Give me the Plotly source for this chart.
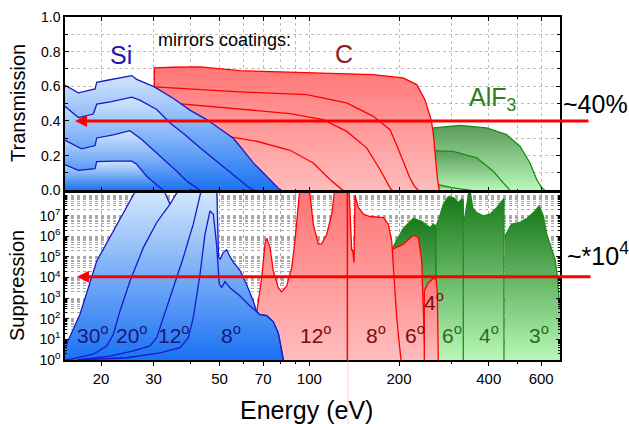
import plotly.graph_objects as go

# ---------------- DATA ----------------
# Top panel: transmission vs energy (eV)
si1_E = [15.0, 16.8, 19.1, 19.35, 21.0, 23.0, 25.35, 26.35, 30.2, 35.0, 40.0, 45.26, 50.0, 55.6, 58.5, 64.9, 68.3, 73.8, 78.7, 80.5]
si1_T = [0.61, 0.562, 0.585, 0.623, 0.635, 0.65, 0.662, 0.64, 0.597, 0.53, 0.46, 0.408, 0.357, 0.30, 0.254, 0.158, 0.12, 0.06, 0.012, 0.0]
si2_E = [15.0, 16.8, 18.85, 19.35, 21.5, 25.35, 27.0, 30.75, 34.1, 38.0, 43.0, 47.5, 52.8, 58.5, 63.2, 65.5]
si2_T = [0.49, 0.42, 0.44, 0.497, 0.51, 0.537, 0.52, 0.466, 0.389, 0.325, 0.245, 0.183, 0.12, 0.058, 0.012, 0.0]
si3_E = [15.0, 17.23, 19.1, 19.35, 22.0, 25.0, 27.4, 30.75, 35.9, 39.0, 41.9, 43.0]
si3_T = [0.293, 0.239, 0.258, 0.302, 0.32, 0.344, 0.293, 0.216, 0.11, 0.05, 0.012, 0.0]
si4_E = [15.0, 16.8, 19.1, 19.35, 22.0, 25.35, 26.35, 28.5, 30.75, 32.4]
si4_T = [0.15, 0.115, 0.125, 0.165, 0.168, 0.168, 0.15, 0.08, 0.03, 0.0]

c1_E = [30.2, 30.2, 35.0, 43.0, 58.5, 98.0, 163.6, 206.4, 229.3, 244.4, 254.0, 257.0, 261.0, 265.0, 269.0, 273.0]
c1_T = [0.0, 0.706, 0.71, 0.712, 0.69, 0.681, 0.668, 0.649, 0.61, 0.523, 0.42, 0.40, 0.32, 0.18, 0.07, 0.0]
c2_E = [30.2, 45.26, 58.5, 98.0, 133.5, 163.9, 186.6, 196.5, 206.8, 217.7, 226.0, 232.2]
c2_T = [0.597, 0.581, 0.568, 0.552, 0.504, 0.427, 0.35, 0.26, 0.16, 0.07, 0.02, 0.0]
c3_E = [34.0, 37.8, 58.5, 86.1, 111.4, 133.5, 155.8, 172.7, 186.6, 190.0]
c3_T = [0.505, 0.498, 0.466, 0.443, 0.408, 0.34, 0.245, 0.12, 0.014, 0.0]
c4_E = [52.0, 54.2, 66.6, 86.1, 103.1, 117.3, 126.7, 130.0]
c4_T = [0.31, 0.308, 0.283, 0.231, 0.158, 0.062, 0.014, 0.0]

g1_E = [250.0, 260.7, 320.4, 393.9, 459.6, 509.3, 550.2, 579.5, 602.6, 618.0]
g1_T = [0.36, 0.36, 0.375, 0.36, 0.321, 0.254, 0.158, 0.062, 0.014, 0.0]
g2_E = [250.0, 264.2, 304.2, 364.5, 414.5, 447.7, 471.5]
g2_T = [0.229, 0.229, 0.225, 0.187, 0.11, 0.043, 0.0]
g3_E = [250.0, 271.0, 300.0, 330.0, 350.0]
g3_T = [0.04, 0.033, 0.015, 0.004, 0.0]

# Bottom panel: suppression, given as decimal exponents (log10)
b30_E = [14.5, 15.14, 17.0, 19.35, 22.0, 25.35, 26.35, 29.0, 32.0, 32.8, 33.5, 34.09, 36.0, 40.0, 42.0]
b30_L = [0.0, 0.6, 2.22, 4.8, 6.26, 7.88, 8.3, 8.8, 8.5, 8.1, 7.8, 7.56, 6.5, 3.0, 0.0]
b20_E = [15.0, 15.74, 18.85, 20.9, 22.0, 23.17, 25.02, 27.74, 30.75, 34.09, 35.89, 38.0, 45.0, 46.5, 47.5]
b20_L = [0.0, 0.03, 0.28, 0.68, 1.25, 2.38, 3.83, 5.45, 6.67, 7.56, 8.1, 8.6, 8.6, 5.0, 0.0]
b12_E = [16.58, 21.44, 25.67, 29.21, 30.75, 32.37, 34.97, 37.77, 40.8, 42.98, 44.0, 48.5, 48.91, 49.6, 50.3, 51.3, 52.8,
         54.2, 55.6, 58.5, 61.65, 64.9, 66.6, 68.3, 71.9, 75.7, 78.7, 80.8, 81.8]
b12_L = [0.0, 0.19, 0.44, 0.68, 1.08, 2.05, 3.51, 4.97, 6.59, 7.96, 8.6, 8.6, 8.4, 5.0, 4.9, 5.2, 5.35,
         5.0, 4.75, 4.35, 3.65, 2.85, 2.35, 2.2, 2.15, 1.85, 1.3, 0.45, 0.0]
b8_E = [17.0, 24.39, 31.55, 36.82, 39.26, 40.8, 42.98, 44.67, 46.43, 47.64, 48.91, 49.89, 50.82, 52.13, 54.2, 58.54,
        63.24, 66.6, 68.3, 71.9, 75.7, 78.7, 80.8, 81.8]
b8_L = [0.0, 0.11, 0.35, 0.6, 1.08, 2.05, 4.16, 6.1, 7.23, 7.07, 5.5, 3.67, 3.51, 3.8, 3.5, 3.1,
        2.62, 2.33, 2.2, 2.15, 1.85, 1.3, 0.45, 0.0]

r12_E = [66.61, 69.25, 71.02, 71.94, 73.81, 75.72, 78.7, 80.79, 83.98, 87.28, 89.54, 91.85, 93.07, 97.0, 100.5,
         103.1, 107.2, 110.0, 114.4, 118.9, 122.0, 126.0, 134.3, 134.3]
r12_L = [2.3, 4.0, 5.62, 5.91, 5.45, 4.32, 3.51, 3.3, 3.59, 4.48, 5.78, 7.39, 8.4, 8.5, 8.04,
         6.59, 5.62, 5.62, 6.1, 7.07, 8.4, 8.6, 8.6, 0.0]
r8_E = [134.3, 134.3, 135.9, 138.8, 139.8, 141.3, 142.4, 146.0, 151.8, 159.8, 177.2, 184.1, 189.0, 192.4, 196.5, 200.5, 203.1]
r8_L = [0.0, 8.6, 8.4, 5.3, 5.35, 4.72, 8.0, 7.4, 7.07, 6.96, 6.91, 6.59, 5.78, 4.17, 2.05, 0.76, 0.0]
r6_E = [189.9, 206.8, 223.4, 232.2, 238.4, 241.4, 244.5]
r6_L = [5.37, 5.62, 6.05, 5.94, 4.8, 2.54, 0.0]
r4_E = [243.2, 243.2, 250.8, 260.7, 266.2, 268.9, 271.0]
r4_L = [0.0, 3.35, 3.75, 3.97, 3.92, 3.35, 0.0]

gr1_E = [185.0, 191.4, 206.8, 223.4, 238.4, 254.1, 260.7, 266.2, 266.2]
gr1_L = [5.0, 5.5, 6.38, 6.87, 6.72, 6.42, 6.59, 6.5, 0.0]
gr2_E = [266.2, 266.2, 271.0, 281.7, 292.7, 304.2, 316.2, 324.6, 328.7, 328.7]
gr2_L = [0.0, 6.5, 6.75, 7.56, 7.92, 7.88, 7.64, 7.8, 7.75, 0.0]
gr3_E = [330.4, 339.0, 344.3, 346.5, 353.4, 364.5, 383.7, 404.1, 425.6, 447.7, 450.2, 450.2]
gr3_L = [6.67, 7.56, 8.3, 8.2, 7.39, 7.15, 6.99, 7.07, 7.39, 7.8, 7.8, 0.0]
gr4_E = [453.6, 477.7, 509.3, 543.0, 571.9, 591.2, 610.0, 626.2, 650.9, 667.7, 676.6, 685.0, 694.0, 720.0]
gr4_L = [6.02, 6.59, 6.67, 6.91, 7.23, 7.48, 6.99, 6.1, 5.37, 4.89, 4.32, 3.35, 2.54, 1.8]

x_tickvals = [20, 30, 50, 70, 100, 200, 400, 600]
x_minorvals = [40, 60, 80, 90, 300, 500, 700]
yT_tickvals = [0.0, 0.2, 0.4, 0.6, 0.8, 1.0]
yS_exponents = [0, 1, 2, 3, 4, 5, 6, 7]

# ---------------- FIGURE ----------------
FONT = "Liberation Sans, Arial, sans-serif"
BLUE_LINE, RED_LINE, GREEN_LINE = "#1818cc", "#ff0000", "#1a8c1a"
BLUE_CS = [[0, "#1a72f2"], [1, "#d2e6fc"]]
RED_CS = [[0, "#ffbcbc"], [1, "#ff7676"]]
GREEN_TOP_CS = [[0, "#b8f8b8"], [1, "#5a9a5a"]]
GREEN_BOT_CS = [[0, "#b8f8b8"], [1, "#187818"]]

fig = go.Figure()
YMAX_LOG = 8.1


def add_area(x, y, xa, ya, color, cs, start, stop):
    fig.add_trace(go.Scatter(
        x=x, y=y, xaxis=xa, yaxis=ya, mode="lines", fill="tozeroy",
        line=dict(color=color, width=1.3),
        fillgradient=dict(type="vertical", colorscale=cs, start=start, stop=stop),
        hoverinfo="skip", showlegend=False))


# top panel: green, red, blue
for E, T in [(g1_E, g1_T), (g2_E, g2_T), (g3_E, g3_T)]:
    add_area(E, T, "x", "y", GREEN_LINE, GREEN_TOP_CS, 0, max(T))
for E, T in [(c1_E, c1_T), (c2_E, c2_T), (c3_E, c3_T), (c4_E, c4_T)]:
    add_area(E, T, "x", "y", RED_LINE, RED_CS, 0, max(c1_T))
for E, T in [(si1_E, si1_T), (si2_E, si2_T), (si3_E, si3_T), (si4_E, si4_T)]:
    add_area(E, T, "x", "y", BLUE_LINE, BLUE_CS, 0, max(T))

# bottom panel
for E, L in [(gr1_E, gr1_L), (gr2_E, gr2_L), (gr3_E, gr3_L), (gr4_E, gr4_L)]:
    add_area(E, [10 ** v for v in L], "x2", "y2", GREEN_LINE, GREEN_BOT_CS, 1, 10 ** min(max(L), YMAX_LOG))
for E, L in [(r6_E, r6_L), (r12_E, r12_L), (r8_E, r8_L), (r4_E, r4_L)]:
    add_area(E, [10 ** v for v in L], "x2", "y2", RED_LINE, RED_CS, 1, 10 ** min(max(L), YMAX_LOG))
for E, L in [(b30_E, b30_L), (b20_E, b20_L), (b12_E, b12_L), (b8_E, b8_L)]:
    add_area(E, [10 ** v for v in L], "x2", "y2", BLUE_LINE, BLUE_CS, 1, 10 ** YMAX_LOG)

xr = [1.1802, 2.8413]
axis_common = dict(showline=True, linecolor="black", linewidth=1.5, tickcolor="black",
                   tickfont=dict(family=FONT, size=14, color="black"))
grid = dict(showgrid=True, gridcolor="#bdbdbd", gridwidth=1, griddash="dot")
grid2 = dict(showgrid=True, gridcolor="#a8a8a8", gridwidth=1, griddash="dot")

top_frac = 173.3 / 343
bot_frac = 167 / 343

fig.update_layout(
    width=629, height=424,
    margin=dict(l=65, r=69, t=17, b=64, autoexpand=False),
    paper_bgcolor="white", plot_bgcolor="white",
    showlegend=False,
    xaxis=dict(domain=[0, 1], anchor="y", type="log", range=xr, tickmode="array", tickvals=x_tickvals,
               showticklabels=False, ticks="inside", ticklen=4, mirror="ticks",
               minor=dict(tickmode="array", tickvals=x_minorvals, ticks="inside", ticklen=2, **grid),
               **grid, **axis_common),
    yaxis=dict(domain=[1 - top_frac, 1], anchor="x", range=[0, 1], tickmode="array", tickvals=yT_tickvals,
               ticktext=[f"{v:.1f}" for v in yT_tickvals], ticks="inside", ticklen=4, mirror="ticks",
               minor=dict(dtick=0.1, ticks="inside", ticklen=3, **grid),
               **grid, **axis_common),
    xaxis2=dict(domain=[0, 1], anchor="y2", type="log", range=xr, matches="x", tickmode="array",
                tickvals=x_tickvals, ticktext=[str(v) for v in x_tickvals], ticks="outside", ticklen=4,
                mirror=True,
                minor=dict(tickmode="array", tickvals=x_minorvals, ticks="outside", ticklen=2, **grid2),
                **grid2, showline=True, linecolor="black", linewidth=1.5, tickcolor="black",
                tickfont=dict(family=FONT, size=15, color="black")),
    yaxis2=dict(domain=[0, bot_frac], anchor="x2", type="log", range=[0, YMAX_LOG], tickmode="array",
                tickvals=[10 ** e for e in yS_exponents],
                ticktext=[f"10<sup>{e}</sup>" for e in yS_exponents], ticks="inside", ticklen=4, mirror="ticks",
                minor=dict(tickmode="array", tickvals=[k * 10 ** e for e in range(0, 8) for k in range(2, 10)] + [1e8],
                           ticks="inside", ticklen=2, **grid2),
                **grid2, **axis_common),
)


def px2paper_x(px):
    return (px - 65) / 495


def px2paper_y(py):
    return (360 - py) / 343


annots = []


def txt(text, px, py, size, color, xanchor="center", yanchor="middle", angle=0):
    annots.append(dict(text=text, x=px2paper_x(px), y=px2paper_y(py), xref="paper", yref="paper",
                       xanchor=xanchor, yanchor=yanchor, showarrow=False, textangle=angle,
                       font=dict(family=FONT, size=size, color=color)))


txt("Transmission", 18, 103, 20, "black", angle=-90)
txt("Suppression", 17, 286, 20, "black", angle=-90)
txt("Energy (eV)", 306, 410, 25, "black")
txt("Si", 121, 55, 25, "#1c1ca8")
txt("mirrors coatings:", 224, 40, 18, "black")
txt("C", 344, 54, 25, "#8b1a1a")
txt("AlF<sub>3</sub>", 467, 99, 25, "#2e7d1e", xanchor="left")
txt("~40%", 595, 104, 25, "black")
txt("~*10<sup>4</sup>", 565, 254, 25, "black", xanchor="left")

deg_blue = [("30", 93), ("20", 132), ("12", 174), ("8", 231)]
deg_red = [("12", 316, 334), ("8", 376, 334), ("6", 415, 334), ("4", 434, 301)]
deg_green = [("6", 452), ("4", 489), ("3", 539)]
for t, px in deg_blue:
    txt(f"{t}<sup>o</sup>", px, 334, 21, "#17177a")
for t, px, py in deg_red:
    txt(f"{t}<sup>o</sup>", px, py, 21, "#7a0c0c")
for t, px in deg_green:
    txt(f"{t}<sup>o</sup>", px, 334, 21, "#2e6b1e")

# ~40% and ~*10^4 arrows
annots.append(dict(x=px2paper_x(75), xref="paper", y=0.4, yref="y", ax=515, ay=0, text="",
                   showarrow=True, arrowhead=2, arrowsize=0.8, arrowwidth=3, arrowcolor="#ff0000"))
annots.append(dict(x=px2paper_x(77), xref="paper", y=4.04, yref="y2", ax=515, ay=0, text="",
                   showarrow=True, arrowhead=2, arrowsize=0.8, arrowwidth=3, arrowcolor="#ff0000"))

fig.update_layout(annotations=annots)
fig.add_shape(type="line", xref="paper", yref="paper", x0=px2paper_x(348), x1=px2paper_x(348),
              y0=px2paper_y(424), y1=0, line=dict(color="rgba(255,170,170,0.5)", width=1))

fig.write_html("out.html", config={"displayModeBar": False},
               post_script="document.body.style.margin='0';document.body.style.overflow='hidden';")
